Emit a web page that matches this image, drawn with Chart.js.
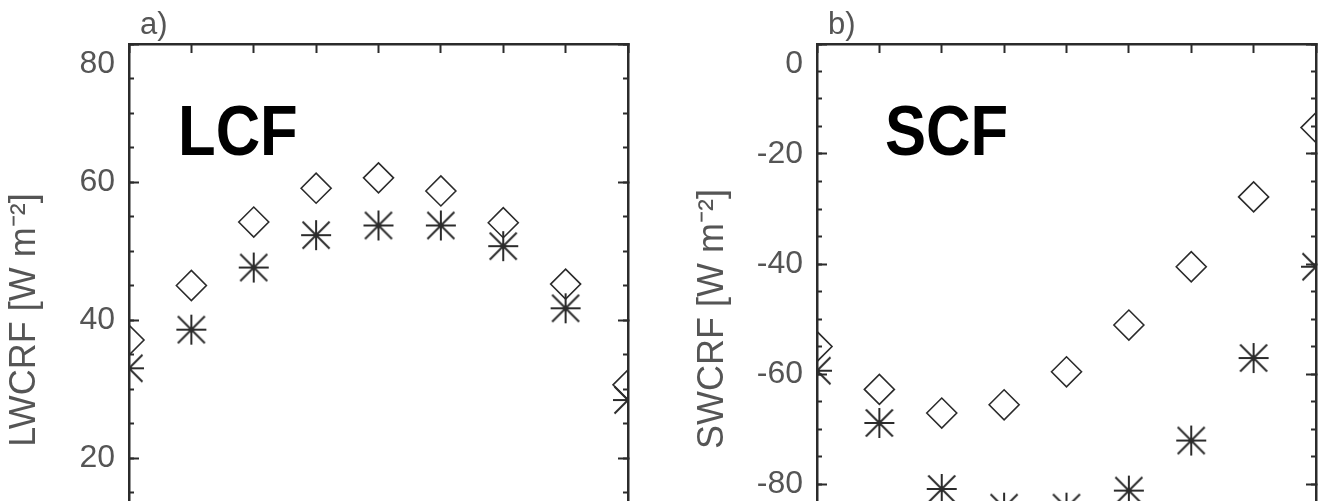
<!DOCTYPE html>
<html>
<head>
<meta charset="utf-8">
<script src="https://cdn.jsdelivr.net/npm/chart.js@4.4.1/dist/chart.umd.min.js"></script>
<style>
  html, body { margin: 0; padding: 0; overflow: hidden; background: #ffffff; width: 1325px; height: 501px; }
  #wrapA { position: absolute; left: 0; top: 0; width: 660px; height: 640px; }
  #wrapB { position: absolute; left: 688px; top: 0; width: 637px; height: 640px; }
</style>
</head>
<body>
<div id="wrapA"><canvas id="cA"></canvas></div>
<div id="wrapB"><canvas id="cB"></canvas></div>
<script>
// ---- data ----
const xValues = [0, 1, 2, 3, 4, 5, 6, 7, 8];

// panel a) LWCRF [W m-2]
const lwDiamond = [37.1, 45.0, 54.2, 59.1, 60.6, 58.7, 54.1, 45.2, 30.6];
const lwStar    = [33.0, 38.6, 47.6, 52.3, 53.7, 53.7, 50.7, 41.7, 28.4];
const lwRange   = [0, 80];
const lwMajorStep = 20;
const lwMinorStep = 5;

// panel b) SWCRF [W m-2]
const swDiamond = [-55.0, -62.8, -67.1, -65.6, -59.6, -51.1, -40.5, -27.8, -15.2];
const swStar    = [-59.4, -68.9, -80.9, -84.3, -84.3, -81.2, -72.1, -57.1, -40.5];
const swRange   = [-100, 0];
const swMajorStep = 20;
const swMinorStep = 5;

const xRange = [0, 8];

// ---- styling ----
Chart.defaults.font.family = "'Liberation Sans', Arial, Helvetica, sans-serif";
const INK = '#2b2b2b';
const GREY = '#555555';

// asterisk marker (IDL-style: diagonals reach the corners of the square)
function makeAsterisk() {
  const c = document.createElement('canvas');
  c.width = 32; c.height = 32;
  const g = c.getContext('2d');
  g.strokeStyle = INK; g.lineWidth = 2; g.lineCap = 'butt';
  g.beginPath();
  g.moveTo(16, 1); g.lineTo(16, 31);
  g.moveTo(1, 16); g.lineTo(31, 16);
  g.moveTo(2.5, 2.5); g.lineTo(29.5, 29.5);
  g.moveTo(29.5, 2.5); g.lineTo(2.5, 29.5);
  g.stroke();
  return c;
}
const asterisk = makeAsterisk();

const panelText = {
  id: 'panelText',
  afterDraw(chart, args, opts) {
    const { ctx, chartArea: a } = chart;
    ctx.save();
    ctx.fillStyle = GREY;
    ctx.font = "31px 'Liberation Sans', Arial, sans-serif";
    ctx.textBaseline = 'alphabetic';
    ctx.textAlign = 'left';
    ctx.fillText(opts.tag, a.left + opts.tagDx, a.top - 10);
    ctx.fillStyle = '#000000';
    ctx.font = "bold 70px 'Liberation Sans', Arial, sans-serif";
    ctx.translate(a.left + opts.nameDx, a.top + 111);
    ctx.scale(0.88, 1);
    ctx.fillText(opts.name, 0, 0);
    ctx.restore();
  }
};

function toPoints(ys) { return xValues.map((x, i) => ({ x: x, y: ys[i] })); }

function zeroPad(s) { s.paddingTop = 0; s.paddingBottom = 0; s.paddingLeft = 0; s.paddingRight = 0; }

function makePanel(canvasId, o) {
  const [ymin, ymax] = o.range;
  const sideMajor = (pos, withLabels) => ({
    type: 'linear', position: pos, min: ymin, max: ymax, weight: 1,
    ticks: withLabels ? {
      display: true, stepSize: o.major, autoSkip: false, color: GREY, padding: 24,
      font: { size: 32, lineHeight: 1.25 },
      callback: (v) => (v === ymax ? ['', String(v)] : String(v))
    } : { display: false, stepSize: o.major },
    grid: { display: true, drawOnChartArea: false, drawTicks: true, tickLength: -10, tickWidth: 2, tickColor: INK },
    border: { display: true, color: INK, width: 2.5 },
    title: withLabels ? { display: true, text: o.title, color: GREY, font: { size: 36 }, padding: { top: 3, bottom: 0 } } : { display: false },
    afterFit: (s) => { s.width = withLabels ? 129 : 0; zeroPad(s); }
  });
  const sideMinor = (pos) => ({
    type: 'linear', position: pos, min: ymin, max: ymax, weight: 0,
    ticks: { display: false, stepSize: o.minor },
    grid: { display: true, drawOnChartArea: false, drawTicks: true, tickLength: -5, tickWidth: 2, tickColor: INK },
    border: { display: false },
    afterFit: (s) => { s.width = 0; zeroPad(s); }
  });

  return new Chart(document.getElementById(canvasId), {
    type: 'scatter',
    data: {
      datasets: [
        {
          label: 'diamond', data: toPoints(o.diamond),
          pointStyle: 'rectRot', pointRadius: 15, pointHoverRadius: 15,
          pointBorderWidth: 1.6, pointBorderColor: INK, pointBackgroundColor: 'rgba(0,0,0,0)',
          showLine: false, clip: 0, xAxisID: 'x', yAxisID: 'y'
        },
        {
          label: 'star', data: toPoints(o.star),
          pointStyle: asterisk, pointRadius: 15, pointHoverRadius: 15,
          pointBorderWidth: 2, pointBorderColor: INK, pointBackgroundColor: 'rgba(0,0,0,0)',
          showLine: false, clip: 0, xAxisID: 'x', yAxisID: 'y'
        }
      ]
    },
    options: {
      responsive: true, maintainAspectRatio: false, animation: false, events: [],
      layout: { autoPadding: false, padding: { top: 44, left: 0, right: o.padRight, bottom: o.padBottom } },
      plugins: {
        legend: { display: false }, tooltip: { enabled: false }, title: { display: false },
        panelText: { tag: o.tag, tagDx: 11, name: o.name, nameDx: o.nameDx }
      },
      scales: {
        x: {
          type: 'linear', position: 'top', min: xRange[0], max: xRange[1],
          ticks: { display: false, stepSize: 1 },
          grid: { display: true, drawOnChartArea: false, drawTicks: true, tickLength: -9, tickWidth: 2, tickColor: INK },
          border: { display: true, color: INK, width: 2.5 },
          afterFit: (s) => { s.height = 0; zeroPad(s); }
        },
        y: sideMajor('left', true),
        yMinor: sideMinor('left'),
        yR: sideMajor('right', false),
        yRMinor: sideMinor('right')
      }
    },
    plugins: [panelText]
  });
}

makePanel('cA', {
  range: lwRange, major: lwMajorStep, minor: lwMinorStep,
  diamond: lwDiamond, star: lwStar,
  title: 'LWCRF [W m\u207B\u00B2]', tag: 'a)', name: 'LCF', nameDx: 49,
  padRight: 32, padBottom: 44
});
makePanel('cB', {
  range: swRange, major: swMajorStep, minor: swMinorStep,
  diamond: swDiamond, star: swStar,
  title: 'SWCRF [W m\u207B\u00B2]', tag: 'b)', name: 'SCF', nameDx: 68,
  padRight: 9, padBottom: 46
});
</script>
</body>
</html>
